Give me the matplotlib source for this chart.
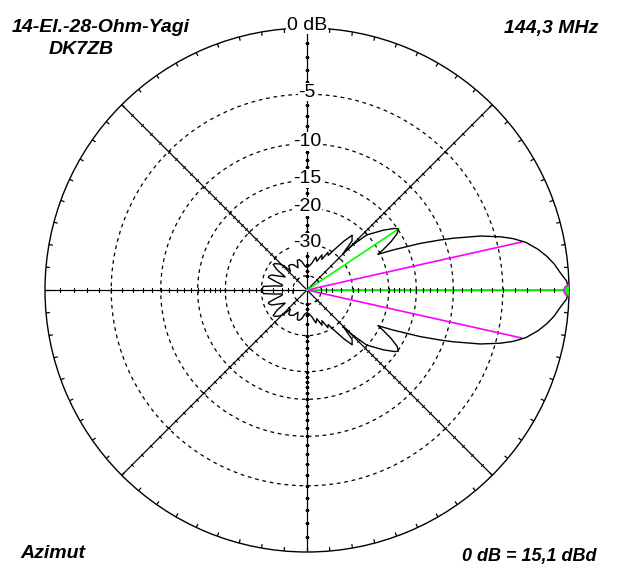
import numpy as np
import matplotlib
matplotlib.use("Agg")
from matplotlib import pyplot as plt

W, H = 619, 581
CX, CY, R0 = 307, 290, 262  # centre and outer radius in pixels

# azimuth pattern, upper half (deg, dB), mirrored for the lower half
az_deg = [0, 2, 4, 6, 8, 10, 12.3, 14, 15.4, 17.3, 19.5, 20.6, 22.4, 23.5,
          25, 26.7, 28, 30, 32, 33.7, 35, 38, 42.7, 44.5, 45.3, 47.5, 50.5,
          53, 56, 58.5, 61, 64, 67, 71, 75, 80, 85, 90, 95, 100, 104, 108,
          112, 118, 123, 127, 131, 134, 137, 141, 143, 146, 149, 153, 157,
          160, 162, 165, 168, 171, 172.5, 173.8, 175.3, 178, 180]
gain_db = [0, -0.15, -0.56, -0.9, -1.35, -1.9, -2.7, -3.6, -4.6, -6.3, -9.0,
           -10.5, -13.1, -15.1, -17.5, -20.5, -19, -17, -15.5, -14.9, -15.3,
           -17, -20.1, -24, -28, -23.5, -22.4, -25, -29, -32, -31, -35, -33,
           -37, -35, -39, -41, -42, -41, -38, -36.5, -36.5, -41, -38, -37,
           -37, -40, -35, -33, -31.5, -31.3, -34, -40, -37, -33, -32, -32,
           -36, -40, -40.3, -36.5, -33.9, -30.7, -30.4, -30.4]

ring_db = [-5, -10, -15, -20, -30, -50]
ring_labels = ["-5", "-10", "-15", "-20", "-30"]
axis_ticks = list(range(-1, -20, -1)) + list(range(-20, -31, -2)) + [-35, -40, -45, -50]

beam_3db = 12.6      # half beamwidth at -3 dB
sidelobe = (33.7, -14.9)

title = "14-El.-28-Ohm-Yagi"
call = "DK7ZB"
freq = "144,3 MHz"
mode = "Azimut"
ref = "0 dB = 15,1 dBd"


def arrl(db):
    # ARRL log scale: 0.89 per 2 dB
    return 0.89 ** (-np.asarray(db, dtype=float) / 2.0)


fig = plt.figure(figsize=(W / 100, H / 100), dpi=100)
ax = fig.add_axes([(CX - R0) / W, (H - CY - R0) / H, 2 * R0 / W, 2 * R0 / H],
                  projection="polar")
ax.set_ylim(0, 1)
ax.grid(False)
ax.set_xticks([])
ax.set_yticks([])
ax.spines["polar"].set_linewidth(1.0)
ax.spines["polar"].set_color("black")

full = np.linspace(0, 2 * np.pi, 721)
for db in ring_db:
    ax.plot(full, np.full_like(full, arrl(db)), color="black", lw=0.9,
            ls=(0, (3, 3)), zorder=1)

# radial axes every 45 deg with cross ticks (smaller on the diagonals)
for a in range(0, 360, 45):
    t = np.radians(a)
    size = 3.5 if a % 90 == 0 else 2.5
    ax.plot([t, t], [0, 1], color="black", lw=0.9, zorder=2)
    ax.plot(np.full(len(axis_ticks), t), arrl(axis_ticks), ls="none",
            marker=(2, 0, a), ms=size, mew=0.8, color="black", zorder=3.5)

# inward ticks on the outer circle every 5 deg
tt = np.radians(np.arange(0, 360, 5))
ax.vlines(tt, 0.985, 1.0, color="black", lw=0.9, zorder=2)

# pattern
th = np.radians(np.concatenate([az_deg, -np.array(az_deg[::-1])]))
gd = np.concatenate([gain_db, gain_db[::-1]])
ax.plot(th, arrl(gd), color="black", lw=1.0, zorder=4)

# beam markers
ax.plot([0, 0], [0, 1], color="#00ff00", lw=1.3, zorder=3)
for s in (1, -1):
    ax.plot([0, s * np.radians(beam_3db)], [0, arrl(-3)], color="#ff00ff",
            lw=1.2, zorder=3)
ax.plot([0, np.radians(sidelobe[0])], [0, arrl(sidelobe[1])], color="#00ff00",
        lw=1.2, zorder=3)
ax.plot([0], [1], marker="o", ms=8, mfc="#00ff00", mec="#ff00ff", mew=1.2,
        zorder=5)


def px(x, y):
    return x / W, 1 - y / H


lab = dict(fontsize=14, family="Liberation Sans", ha="center", va="center",
           zorder=6, bbox=dict(fc="white", ec="none", pad=0.5))
fig.text(*px(CX, 25), "0 dB", **lab)
for db, txt in zip(ring_db, ring_labels):
    fig.text(*px(CX, CY - R0 * arrl(db) - 2), txt, **lab)

hdr = dict(fontsize=14, family="Liberation Sans", weight="bold",
           style="italic", va="center")
fig.text(*px(12, 28), title, ha="left", **hdr)
fig.text(*px(81, 50), call, ha="center", **hdr)
fig.text(*px(598, 28), freq, ha="right", **hdr)
fig.text(*px(20, 554), mode, ha="left", **hdr)
fig.text(*px(597, 557), ref, ha="right", fontsize=13, family="Liberation Sans",
         weight="bold", style="italic", va="center")

fig.savefig("out.png", dpi=100, facecolor="white")
